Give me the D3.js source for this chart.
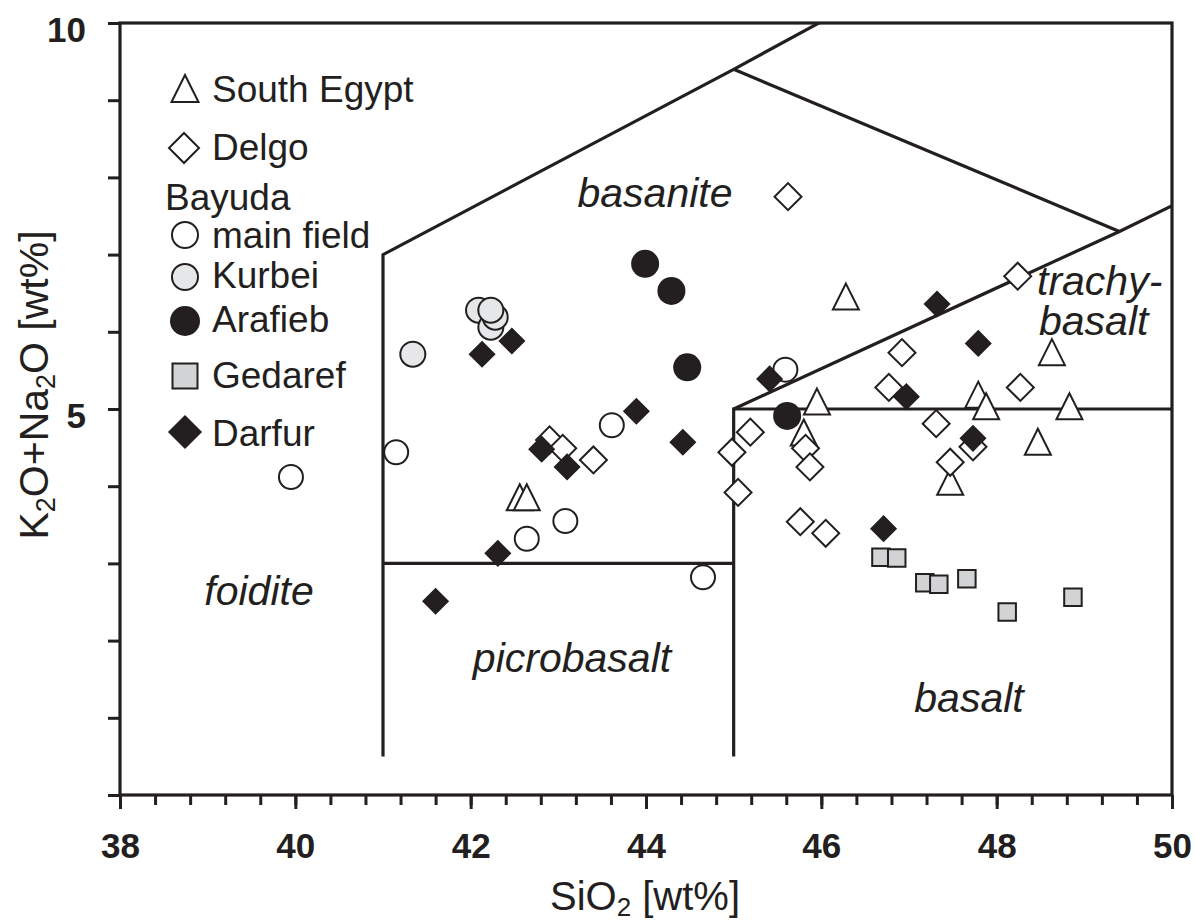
<!DOCTYPE html>
<html>
<head>
<meta charset="utf-8">
<script src="https://cdn.jsdelivr.net/npm/d3@7"></script>
<style>
  html, body { margin: 0; padding: 0; background: #fff; }
  svg { display: block; font-family: Arial, "Liberation Sans", Helvetica, sans-serif; }
</style>
</head>
<body>
<svg id="chart" width="1195" height="924"></svg>
<script>
// Total alkali vs silica: [SiO2 wt%, K2O+Na2O wt%] per sample group
const southEgypt = [
  [46.28, 6.40], [48.63, 5.68], [45.95, 5.04], [47.79, 5.13], [47.88, 4.98],
  [48.83, 4.98], [45.80, 4.64], [48.47, 4.52], [47.47, 4.00], [42.56, 3.80], [42.64, 3.80]
];
const delgo = [
  [45.62, 7.75], [48.24, 6.72], [46.92, 5.73], [46.77, 5.28], [48.27, 5.28],
  [47.31, 4.81], [45.19, 4.70], [44.98, 4.44], [45.82, 4.49], [45.87, 4.25],
  [47.73, 4.51], [47.47, 4.31], [45.05, 3.92], [45.76, 3.54], [46.05, 3.39],
  [42.90, 4.60], [43.05, 4.49], [43.40, 4.34]
];
const bayudaMain = [
  [41.15, 4.44], [39.95, 4.12], [43.61, 4.79], [43.08, 3.55], [42.64, 3.32],
  [44.65, 2.82], [45.59, 5.51]
];
const bayudaKurbei = [
  [41.34, 5.71], [42.09, 6.28], [42.23, 6.06], [42.28, 6.19], [42.23, 6.28]
];
const bayudaArafieb = [
  [43.99, 6.88], [44.29, 6.53], [44.47, 5.54], [45.61, 4.91]
];
const gedaref = [
  [46.68, 3.08], [46.86, 3.07], [47.18, 2.75], [47.34, 2.73], [47.66, 2.80],
  [48.12, 2.37], [48.87, 2.56]
];
const darfur = [
  [42.13, 5.71], [42.47, 5.88], [43.89, 4.97], [45.41, 5.39], [44.42, 4.57],
  [42.81, 4.48], [43.10, 4.25], [42.31, 3.13], [41.60, 2.51], [47.32, 6.36],
  [47.79, 5.85], [46.97, 5.16], [47.73, 4.62], [46.71, 3.45]
];

// TAS field boundaries (Le Bas et al. 1986), clipped to the plot area
const fieldLines = [
  [[41, 0.5], [41, 7], [45, 9.4], [48.4, 11.5]],
  [[41, 3], [45, 3]],
  [[45, 0.5], [45, 5], [52, 5]],
  [[45, 5], [49.4, 7.3], [53, 9.3]],
  [[45, 9.4], [49.4, 7.3]]
];
const fieldNames = ["basanite", "foidite", "picrobasalt", "basalt", "trachy-", "basalt"];

const xMajor = [38, 40, 42, 44, 46, 48, 50];
const xMinor = d3.range(0, 31).map(i => 38 + i * 0.4);
const yTicks = d3.range(0, 11);
const yLabelled = [5, 10];

const ink = "#231f20";
const kurbeiFill = "#e6e7e8";
const gedarefFill = "#d1d3d4";

const svg = d3.select("#chart");
const plotLeft = 120, plotRight = 1172, plotTop = 23, plotBottom = 795;

const x = d3.scaleLinear().domain([38, 50]).range([plotLeft, plotRight]);
const y = d3.scaleLinear().domain([0, 10]).range([plotBottom, plotTop]);

// clip for the field boundaries
svg.append("defs").append("clipPath").attr("id", "plotClip")
  .append("rect").attr("x", plotLeft).attr("y", plotTop)
  .attr("width", plotRight - plotLeft).attr("height", plotBottom - plotTop);

// field boundary lines
const line = d3.line().x(d => x(d[0])).y(d => y(d[1]));
svg.append("g").attr("clip-path", "url(#plotClip)")
  .selectAll("path").data(fieldLines).join("path")
  .attr("d", line).attr("fill", "none").attr("stroke", ink)
  .attr("stroke-width", 3.2).attr("stroke-linejoin", "miter");

// field names (italic)
const fieldPlace = [
  { px: 655, py: 207, anchor: "middle" },
  { px: 259, py: 605, anchor: "middle" },
  { px: 572, py: 672, anchor: "middle" },
  { px: 969, py: 712, anchor: "middle" },
  { px: 1037, py: 295, anchor: "start" },
  { px: 1039, py: 335, anchor: "start" }
];
svg.append("g").selectAll("text").data(fieldNames).join("text")
  .attr("x", (d, i) => fieldPlace[i].px).attr("y", (d, i) => fieldPlace[i].py)
  .attr("text-anchor", (d, i) => fieldPlace[i].anchor)
  .attr("font-style", "italic").attr("font-size", 41).attr("fill", ink)
  .text(d => d);

// axes
const gxMinor = svg.append("g").attr("transform", `translate(0,${plotBottom})`)
  .call(d3.axisBottom(x).tickValues(xMinor).tickSize(10).tickSizeOuter(0).tickFormat(""));
const gxMajor = svg.append("g").attr("transform", `translate(0,${plotBottom})`)
  .call(d3.axisBottom(x).tickValues(xMajor).tickSize(14).tickSizeOuter(0).tickPadding(24).tickFormat(d3.format("d")));
const gy = svg.append("g").attr("transform", `translate(${plotLeft},0)`)
  .call(d3.axisLeft(y).tickValues(yTicks).tickSize(12).tickSizeOuter(0).tickPadding(22)
    .tickFormat(d => yLabelled.includes(d) ? d3.format("d")(d) : ""));

[gxMinor, gxMajor, gy].forEach(g => {
  g.select(".domain").remove();
  g.selectAll(".tick line").attr("stroke", ink).attr("stroke-width", 3);
  g.selectAll(".tick text").attr("fill", ink).attr("font-size", 35)
    .attr("font-weight", "bold").attr("font-family", "Arial, 'Liberation Sans', sans-serif");
});
gy.selectAll(".tick text").attr("dy", "0.52em");

// frame
svg.append("rect").attr("x", plotLeft).attr("y", plotTop)
  .attr("width", plotRight - plotLeft).attr("height", plotBottom - plotTop)
  .attr("fill", "none").attr("stroke", ink).attr("stroke-width", 3.2);

// axis titles
const xt = svg.append("text").attr("x", 645).attr("y", 910)
  .attr("text-anchor", "middle").attr("font-size", 40).attr("fill", ink);
xt.append("tspan").text("SiO");
xt.append("tspan").attr("font-size", 26).attr("dy", 6).text("2");
xt.append("tspan").attr("dy", -6).text(" [wt%]");

const yt = svg.append("text").attr("transform", "translate(48,385) rotate(-90)")
  .attr("text-anchor", "middle").attr("font-size", 41).attr("fill", ink);
yt.append("tspan").text("K");
yt.append("tspan").attr("font-size", 27).attr("dy", 7).text("2");
yt.append("tspan").attr("dy", -7).text("O+Na");
yt.append("tspan").attr("font-size", 27).attr("dy", 7).text("2");
yt.append("tspan").attr("dy", -7).text("O [wt%]");

// symbol types
const tallTriangle = {
  draw(ctx, size) {
    const r = Math.sqrt(size) / 2;
    ctx.moveTo(0, -r * 4 / 3);
    ctx.lineTo(r, r * 2 / 3);
    ctx.lineTo(-r, r * 2 / 3);
    ctx.closePath();
  }
};

const series = [
  { data: southEgypt, type: tallTriangle, size: 676, fill: "#fff", sw: 2, rot: 0 },
  { data: delgo, type: d3.symbolSquare, size: 364, fill: "#fff", sw: 2, rot: 45 },
  { data: bayudaMain, type: d3.symbolCircle, size: Math.PI * 12 * 12, fill: "#fff", sw: 2, rot: 0 },
  { data: bayudaKurbei, type: d3.symbolCircle, size: Math.PI * 12.5 * 12.5, fill: kurbeiFill, sw: 2, rot: 0 },
  { data: bayudaArafieb, type: d3.symbolCircle, size: Math.PI * 14 * 14, fill: ink, sw: 0, rot: 0 },
  { data: gedaref, type: d3.symbolSquare, size: 306, fill: gedarefFill, sw: 2, rot: 0 },
  { data: darfur, type: d3.symbolSquare, size: 312, fill: ink, sw: 1.5, rot: 45 }
];

series.forEach(s => {
  svg.append("g").selectAll("path").data(s.data).join("path")
    .attr("d", d3.symbol().type(s.type).size(s.size))
    .attr("transform", d => `translate(${x(d[0])},${y(d[1])}) rotate(${s.rot})`)
    .attr("fill", s.fill)
    .attr("stroke", s.sw ? ink : "none")
    .attr("stroke-width", s.sw);
});

// legend
const legendRows = [
  { label: "South Egypt", type: tallTriangle, size: 729, fill: "#fff", sw: 2, rot: 0, sx: 185, sy: 93, ty: 102 },
  { label: "Delgo", type: d3.symbolSquare, size: 450, fill: "#fff", sw: 2, rot: 45, sx: 184, sy: 148, ty: 160 },
  { label: "main field", type: d3.symbolCircle, size: Math.PI * 13 * 13, fill: "#fff", sw: 2, rot: 0, sx: 185, sy: 235, ty: 248 },
  { label: "Kurbei", type: d3.symbolCircle, size: Math.PI * 13 * 13, fill: kurbeiFill, sw: 2, rot: 0, sx: 185, sy: 277, ty: 288 },
  { label: "Arafieb", type: d3.symbolCircle, size: Math.PI * 15 * 15, fill: ink, sw: 0, rot: 0, sx: 185, sy: 321, ty: 332 },
  { label: "Gedaref", type: d3.symbolSquare, size: 625, fill: gedarefFill, sw: 2, rot: 0, sx: 185, sy: 376, ty: 388 },
  { label: "Darfur", type: d3.symbolSquare, size: 512, fill: ink, sw: 1.5, rot: 45, sx: 185, sy: 432, ty: 446 }
];
const lg = svg.append("g");
legendRows.forEach(r => {
  lg.append("path")
    .attr("d", d3.symbol().type(r.type).size(r.size)())
    .attr("transform", `translate(${r.sx},${r.sy}) rotate(${r.rot})`)
    .attr("fill", r.fill).attr("stroke", r.sw ? ink : "none").attr("stroke-width", r.sw);
  lg.append("text").attr("x", 212).attr("y", r.ty)
    .attr("font-size", 37).attr("fill", ink).text(r.label);
});
lg.append("text").attr("x", 165).attr("y", 210)
  .attr("font-size", 37).attr("fill", ink).text("Bayuda");
</script>
</body>
</html>
